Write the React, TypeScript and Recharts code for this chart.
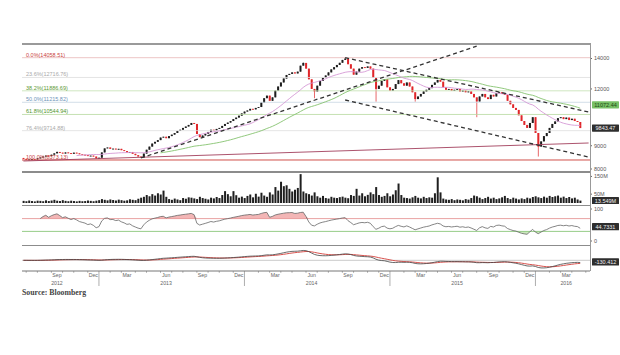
import React from 'react';
import { ComposedChart, Bar, Line, Area, XAxis, YAxis, ReferenceLine } from 'recharts';

// ---------- DATA ----------
const START = Date.UTC(2012, 5, 29); // first weekly candle (Friday)
const WEEKS = 203; // axis runs a few weeks past the last candle

const firstOpen = 8460;
const closes = [
  8420, 8390, 8400, 8410, 8395, 8440, 8480, 8520, 8560, 8540,
  8600, 8660, 8720, 8690, 8650, 8700, 8670, 8640, 8690, 8660,
  8620, 8600, 8580, 8540, 8560, 8520, 8440, 8470, 8700, 8880,
  8920, 8860, 8870, 8830, 8860, 8800, 8760, 8700, 8720, 8640,
  8580, 8520, 8480, 8650, 8820, 8960, 9100, 9180, 9260, 9380,
  9420, 9350, 9450, 9520, 9600, 9700, 9760, 9850, 9920, 10000,
  10100, 10050, 9550, 9400, 9480, 9560, 9650, 9760, 9720, 9800,
  9850, 9950, 10050, 10120, 10200, 10300, 10380, 10480, 10600, 10700,
  10760, 10850, 10820, 10900, 10950, 11200, 11450, 11600, 11300, 11500,
  11900, 12150, 12400, 12650, 12880, 12950, 13050, 12980, 13100, 13500,
  13690, 13300, 12600, 12000, 11850, 12200, 12500, 12700, 12850, 13050,
  13250, 13400, 13550, 13700, 13900, 14000, 13600, 13300, 12900, 13100,
  13300, 13400, 13350, 13450, 13300, 12700, 12000, 12200, 12500, 12600,
  12100, 11900, 12000, 12300, 12550, 12350, 12200, 12400, 12150, 11800,
  11400, 11550, 11700, 11850, 11950, 12050, 12250, 12400, 12560, 12450,
  12100, 11950, 12000, 11900, 11950, 12000, 11850, 11900, 11800, 11850,
  11700, 11500, 11260, 11550, 11700, 11500, 11400, 11650, 11550, 11750,
  11800, 11700, 11650, 11300, 11100, 10900, 10790, 10500, 10200, 10000,
  9850, 10100, 10400, 9600, 8960, 9200, 9450, 9600, 9850, 10050,
  10180, 10350, 10400, 10300, 10380, 10250, 10320, 10200, 10150, 9843.47,
];
const wickHighs: Record<number, number> = { 12: 8740, 100: 13720, 115: 14058.51 };
const wickLows: Record<number, number> = { 1: 8373.13, 104: 11450, 126: 11250, 140: 11250, 162: 10400, 184: 8520 };

const volumes = [
  12, 10, 14, 11, 9, 13, 12, 10, 15, 11,
  14, 18, 13, 11, 16, 12, 10, 13, 11, 9,
  12, 10, 11, 14, 12, 10, 13, 16, 22, 18,
  15, 20, 17, 14, 19, 16, 13, 15, 21, 18,
  16, 24, 30, 35, 45, 38, 50, 42, 55, 48,
  70, 35, 22, 18, 25, 20, 16, 28, 24, 32,
  30, 26, 22, 35, 28, 24, 20, 30, 26, 34,
  28, 45, 67, 50, 38, 67, 44, 30, 36, 28,
  40, 48, 32, 52, 36, 58, 42, 35, 60, 48,
  90, 70, 120, 95, 100, 80, 65, 75, 85, 163,
  65, 55, 50, 42, 60, 38, 30, 40, 28, 25,
  35, 30, 28, 33, 36, 30, 27, 45, 40, 80,
  42, 55, 38, 46, 60, 50, 90, 45, 35, 40,
  55, 38, 48, 72, 110, 45, 30, 28, 25, 32,
  40, 30, 26, 35, 28, 32, 30, 55, 145, 60,
  25, 20, 18, 22, 16, 20, 18, 15, 22, 19,
  28, 42, 38, 30, 22, 28, 35, 25, 30, 22,
  26, 32, 40, 28, 22, 30, 25, 20, 26, 22,
  30, 26, 34, 38, 32, 28, 36, 30, 40, 34,
  38, 42, 30, 36, 28, 34, 26, 30, 20, 13.549,
];

const fibNames = ['0.0%', '23.6%', '38.2%', '50.0%', '61.8%', '76.4%', '100.0%'];
const fibValues = [14058.51, 12716.76, 11886.69, 11215.82, 10544.94, 9714.88, 8373.13];
const fibTextColors = ['#c9413d', '#a9a9a9', '#5e9a35', '#6e93b8', '#4f952c', '#a9a9a9', '#c9413d'];
const fibLineColors = ['#e7b5b5', '#dedede', '#c3dfb0', '#c8d5e2', '#b7d9a0', '#dedede', '#d0504a'];

const trendLines = [
  [{ x: 42, y: 8459 }, { x: 162, y: 14900 }],
  [{ x: 115, y: 14058.51 }, { x: 202, y: 10677 }],
  [{ x: 115, y: 11347 }, { x: 202, y: 8501 }],
];
const supportLine = [{ x: 0, y: 8330 }, { x: 202, y: 9126 }];

const priceTicks = [8000, 9000, 12000, 14000];
const volumeTicks = [50, 100, 150];
const rsiTicks = [0, 100];

const lastPrice = 9843.47;
const lastMA = 11072.44;
const lastVolume = 13.549;
const lastRSI = 44.7331;
const lastMACD = -130.412;

const monthNames = ['Jan', 'Feb', 'Mar', 'Apr', 'May', 'Jun', 'Jul', 'Aug', 'Sep', 'Oct', 'Nov', 'Dec'];
const labeledMonths = [2, 5, 8, 11];
const yearLabels: Record<string, string> = { '2012-8': '2012', '2013-5': '2013', '2014-5': '2014', '2015-5': '2015', '2016-2': '2016' };

// ---------- DERIVED TABLE ----------
type Row = any;
const rows: Row[] = [];
for (let i = 0; i < WEEKS; i++) {
  const date = new Date(START + i * 7 * 86400000);
  const r: Row = { i, date };
  if (i < closes.length) {
    const c = closes[i];
    const o = i === 0 ? firstOpen : closes[i - 1];
    const h = Math.max(o, c, wickHighs[i] ?? 0);
    const l = Math.min(o, c, wickLows[i] ?? Infinity);
    r.o = o; r.c = c; r.h = h; r.l = l; r.candle = [l, h];
    r.vol = volumes[i];
  }
  rows.push(r);
}
// moving averages
for (let i = 0; i < closes.length; i++) {
  if (i >= 19) rows[i].sma20 = closes.slice(i - 19, i + 1).reduce((a, b) => a + b, 0) / 20;
  if (i >= 49) rows[i].sma50 = closes.slice(i - 49, i + 1).reduce((a, b) => a + b, 0) / 50;
}
// RSI (14, Wilder)
{
  let ag = 0, al = 0;
  for (let i = 1; i < closes.length; i++) {
    const ch = closes[i] - closes[i - 1];
    const g = Math.max(ch, 0), l = Math.max(-ch, 0);
    if (i <= 14) { ag = (ag * (i - 1) + g) / i; al = (al * (i - 1) + l) / i; }
    else { ag = (ag * 13 + g) / 14; al = (al * 13 + l) / 14; }
    if (i >= 6) {
      const rsi = al === 0 ? 100 : 100 - 100 / (1 + ag / al);
      rows[i].rsi = rsi;
      rows[i].rsiHi = [70, Math.max(70, rsi)];
      rows[i].rsiLo = [Math.min(30, rsi), 30];
    }
  }
}
// MACD (12, 26, 9)
{
  let e12 = closes[0], e26 = closes[0], sig = 0;
  for (let i = 0; i < closes.length; i++) {
    e12 = e12 + (2 / 13) * (closes[i] - e12);
    e26 = e26 + (2 / 27) * (closes[i] - e26);
    const m = e12 - e26;
    sig = sig + 0.2 * (m - sig);
    rows[i].macd = m;
    rows[i].signal = sig;
  }
}
const macdAll = rows.filter((r) => r.macd != null).flatMap((r) => [r.macd, r.signal]);
const mMax = Math.max(...macdAll);
const mMin = Math.min(...macdAll);
const macdDomain = [mMin * 1.4, mMax * 1.35];

// ---------- RENDER HELPERS ----------
const FONT = 'Liberation Sans, Arial, sans-serif';
const W = 620;
const LEFT = 22;
const AXW = 30;

const Candle = (props: any) => {
  const { x, y, width, height, payload } = props;
  if (!payload || payload.o == null) return null;
  const { o, c, h, l } = payload;
  const top0 = Math.min(y, y + height);
  const hh = Math.abs(height);
  const lh = Math.log(h), ll = Math.log(l);
  const py = (v: number) => (lh === ll ? top0 : top0 + (hh * (lh - Math.log(v))) / (lh - ll));
  const up = c >= o;
  const color = up ? '#1d1d1d' : '#e0262a';
  const bt = py(Math.max(o, c));
  const bb = py(Math.min(o, c));
  const cx = x + width / 2;
  return (
    <g>
      <line x1={cx} x2={cx} y1={top0} y2={top0 + hh} stroke={color} strokeWidth={0.7} />
      <rect x={x} y={bt} width={width} height={Math.max(0.9, bb - bt)} fill={color} />
    </g>
  );
};

const fibLabel = (text: string, color: string) => (props: any) => {
  const vb = props.viewBox;
  return (
    <text x={vb.x + 4} y={vb.y - 1} fontSize={5.5} fill={color} fontFamily={FONT}>{text}</text>
  );
};

const boxLabel = (text: string, bg: string, fg: string, w = 27) => (props: any) => {
  const vb = props.viewBox;
  const x0 = vb.x + vb.width + 2;
  return (
    <g>
      <rect x={x0} y={vb.y - 3.6} width={w} height={7.2} fill={bg} rx={0.6} />
      <text x={x0 + w / 2} y={vb.y + 2} fontSize={5.5} fill={fg} textAnchor="middle" fontFamily={FONT}>{text}</text>
    </g>
  );
};

const XTick = (props: any) => {
  const { x, y, payload } = props;
  const r = rows[payload.value];
  if (!r) return null;
  const d: Date = r.date;
  const m = d.getUTCMonth(), day = d.getUTCDate(), yr = d.getUTCFullYear();
  const out: any[] = [];
  if (day <= 7) {
    if (m === 0) out.push(<line key="ys" x1={x} x2={x} y1={y} y2={y + 15} stroke="#777" strokeWidth={0.6} />);
    else out.push(<line key="ms" x1={x} x2={x} y1={y} y2={y + 1.8} stroke="#777" strokeWidth={0.6} />);
  }
  if (day >= 15 && day <= 21 && labeledMonths.includes(m)) {
    out.push(<text key="m" x={x} y={y + 6} fontSize={5.2} fill="#666" textAnchor="middle" fontFamily={FONT}>{monthNames[m]}</text>);
    const yl = yearLabels[`${yr}-${m}`];
    if (yl) out.push(<text key="y" x={x} y={y + 13.5} fontSize={5.2} fill="#666" textAnchor="middle" fontFamily={FONT}>{yl}</text>);
  }
  return <g>{out}</g>;
};

const yTick = { fontSize: 5.5, fill: '#555', fontFamily: FONT };

export default function App() {
  return (
    <div style={{ position: 'absolute', left: 0, top: 0, width: W, height: 355, background: '#fff', overflow: 'hidden' }}>
      {/* price panel */}
      <div style={{ position: 'absolute', left: 0, top: 44 }}>
        <ComposedChart width={W} height={128} data={rows} margin={{ top: 1, right: 0, bottom: 1, left: LEFT }} barCategoryGap="18%">
          <XAxis dataKey="i" type="category" scale="band" hide />
          <YAxis yAxisId="p" orientation="right" width={AXW} scale="log" domain={[7919, 14992]} allowDataOverflow
            ticks={priceTicks} tick={yTick} tickLine={{ stroke: '#666' }} tickSize={2} axisLine={false} />
          {fibValues.map((v, k) => (
            <ReferenceLine key={'f' + k} yAxisId="p" y={v} stroke={fibLineColors[k]} strokeWidth={k === 6 ? 1 : 0.8}
              label={fibLabel(`${fibNames[k]}(${v.toFixed(2)})`, fibTextColors[k])} />
          ))}
          <ReferenceLine yAxisId="p" segment={supportLine} stroke="#a3405c" strokeWidth={0.9} />
          <Line yAxisId="p" dataKey="sma50" stroke="#86c36f" strokeWidth={0.9} dot={false} activeDot={false} isAnimationActive={false} />
          <Line yAxisId="p" dataKey="sma20" stroke="#d69ad6" strokeWidth={0.9} dot={false} activeDot={false} isAnimationActive={false} />
          <Bar yAxisId="p" dataKey="candle" shape={Candle} isAnimationActive={false} />
          {trendLines.map((s, k) => (
            <ReferenceLine key={'t' + k} yAxisId="p" segment={s} stroke="#333" strokeWidth={1.3} strokeDasharray="4 3" />
          ))}
          <ReferenceLine yAxisId="p" y={lastMA} stroke="none" label={boxLabel(lastMA.toFixed(2), '#78c066', '#1e4a14')} />
          <ReferenceLine yAxisId="p" y={lastPrice} stroke="none" label={boxLabel(lastPrice.toFixed(2), '#2e2e2e', '#f2f2f2')} />
        </ComposedChart>
      </div>

      {/* volume panel */}
      <div style={{ position: 'absolute', left: 0, top: 172 }}>
        <ComposedChart width={W} height={32} data={rows} margin={{ top: 0, right: 0, bottom: 1, left: LEFT }} barCategoryGap="22%">
          <XAxis dataKey="i" type="category" scale="band" hide />
          <YAxis orientation="right" width={AXW} domain={[0, 175]} allowDataOverflow ticks={volumeTicks}
            tickFormatter={(v: number) => `${v}M`} tick={yTick} tickLine={{ stroke: '#666' }} tickSize={2} axisLine={false} />
          <Bar dataKey="vol" fill="#1f1f1f" isAnimationActive={false} />
          <ReferenceLine y={lastVolume} stroke="none" label={boxLabel(`${lastVolume}M`, '#2e2e2e', '#f2f2f2')} />
        </ComposedChart>
      </div>

      {/* RSI panel */}
      <div style={{ position: 'absolute', left: 0, top: 206 }}>
        <ComposedChart width={W} height={38} data={rows} margin={{ top: 3, right: 0, bottom: 3, left: LEFT }}>
          <XAxis dataKey="i" type="category" scale="band" hide />
          <YAxis orientation="right" width={AXW} domain={[0, 100]} ticks={rsiTicks} tick={yTick}
            tickLine={{ stroke: '#666' }} tickSize={2} axisLine={false} />
          <Area dataKey="rsiHi" stroke="none" fill="#f3b6b6" fillOpacity={1} isAnimationActive={false} />
          <Area dataKey="rsiLo" stroke="none" fill="#cbe8bd" fillOpacity={1} isAnimationActive={false} />
          <ReferenceLine y={70} stroke="#e28a8a" strokeWidth={0.8} />
          <ReferenceLine y={30} stroke="#7cc069" strokeWidth={0.8} />
          <Line dataKey="rsi" stroke="#666" strokeWidth={0.8} dot={false} activeDot={false} isAnimationActive={false} />
          <ReferenceLine y={lastRSI} stroke="none" label={boxLabel(String(lastRSI), '#2e2e2e', '#f2f2f2')} />
        </ComposedChart>
      </div>

      {/* MACD panel */}
      <div style={{ position: 'absolute', left: 0, top: 246 }}>
        <ComposedChart width={W} height={41} data={rows} margin={{ top: 1, right: 0, bottom: 0, left: LEFT }}>
          <XAxis dataKey="i" type="category" scale="band" height={16} interval={0} tickLine={false} tickSize={0}
            tickMargin={0} axisLine={{ stroke: '#777' }} tick={XTick} />
          <YAxis orientation="right" width={AXW} domain={macdDomain} allowDataOverflow tick={false} axisLine={false} tickLine={false} />
          <ReferenceLine y={0} stroke="#b5b5b5" strokeWidth={0.7} />
          <Line dataKey="signal" stroke="#d9534f" strokeWidth={1} dot={false} activeDot={false} isAnimationActive={false} />
          <Line dataKey="macd" stroke="#444" strokeWidth={0.8} dot={false} activeDot={false} isAnimationActive={false} />
          <ReferenceLine y={lastMACD} stroke="none" label={boxLabel(lastMACD.toFixed(3), '#2e2e2e', '#f2f2f2')} />
        </ComposedChart>
      </div>

      {/* panel frames */}
      <div style={{ position: 'absolute', left: LEFT, top: 43, width: W - LEFT - AXW, height: 2, background: '#9a9a9a' }} />
      <div style={{ position: 'absolute', left: LEFT, top: 171, width: W - LEFT - AXW, height: 1.5, background: '#8c8c8c' }} />
      <div style={{ position: 'absolute', left: LEFT, top: 204.5, width: W - LEFT - AXW, height: 1.5, background: '#8c8c8c' }} />
      <div style={{ position: 'absolute', left: LEFT, top: 244.5, width: W - LEFT - AXW, height: 1.5, background: '#8c8c8c' }} />
      <div style={{ position: 'absolute', left: W - AXW, top: 43, width: 1, height: 228, background: '#999' }} />

      <div style={{ position: 'absolute', left: LEFT, top: 288, fontFamily: 'Liberation Serif, DejaVu Serif, serif', fontWeight: 'bold', fontSize: 7.8, color: '#444' }}>
        Source: Bloomberg
      </div>
    </div>
  );
}
